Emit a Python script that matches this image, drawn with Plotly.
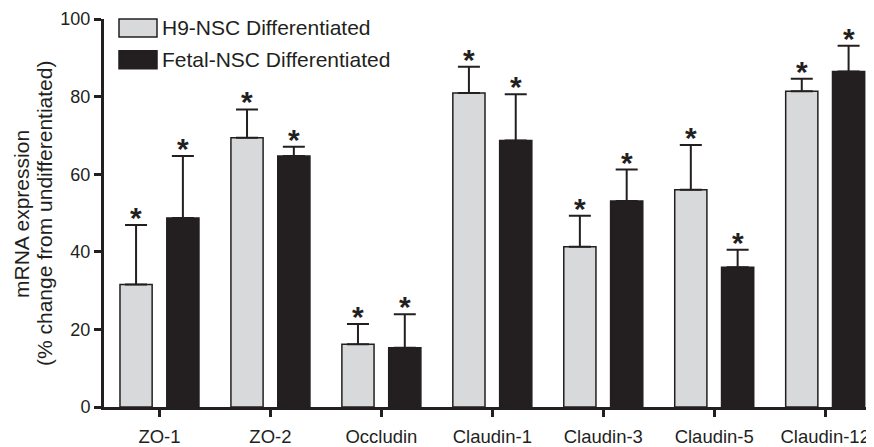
import plotly.graph_objects as go

categories = ["ZO-1", "ZO-2", "Occludin", "Claudin-1", "Claudin-3", "Claudin-5", "Claudin-12"]
h9_mean = [31.6, 69.4, 16.2, 80.9, 41.3, 56.0, 81.4]
h9_err = [15.3, 7.3, 5.2, 6.8, 8.0, 11.5, 3.2]
fetal_mean = [48.7, 64.7, 15.3, 68.7, 53.1, 36.0, 86.5]
fetal_err = [16.0, 2.4, 8.6, 11.9, 8.1, 4.5, 6.6]
series_names = ["H9-NSC Differentiated", "Fetal-NSC Differentiated"]
y_ticks = [0, 20, 40, 60, 80, 100]
y_title_lines = ["mRNA expression", "(% change from undifferentiated)"]

GRAY = "#d8d9db"
BLACK = "#231f20"
FONT = "Liberation Sans, Arial, sans-serif"
BAR_W = 0.29
OFFSETS = [-0.356, 0.066]

# page body has an 8px margin, so the figure is 8px smaller on each axis
PAGE_OFF = 8
FIG_W, FIG_H = 874 - PAGE_OFF, 447 - PAGE_OFF
L = 104  # reference pixel of y axis
T = 19   # reference pixel of y=100
B0 = 409 # reference pixel of y=0
PW = 874 - L
PH = B0 - T

xs = list(range(len(categories)))
fig = go.Figure()
specs = [(h9_mean, h9_err, GRAY), (fetal_mean, fetal_err, BLACK)]
for (mean, err, col), off, name in zip(specs, OFFSETS, series_names):
    fig.add_trace(go.Bar(
        x=xs, y=mean, name=name, width=BAR_W, offset=off,
        marker=dict(color=col, line=dict(color=BLACK, width=1.5)),
        error_y=dict(type="data", symmetric=False, array=err, arrayminus=[0] * len(err),
                     color=BLACK, thickness=2, width=11),
        showlegend=False,
    ))
    for i, (m, e) in enumerate(zip(mean, err)):
        fig.add_annotation(x=i + off + BAR_W / 2, y=m + e, xref="x", yref="y",
                           text="<b>*</b>", showarrow=False, yanchor="bottom",
                           yshift=-11, font=dict(family=FONT, size=30, color=BLACK))

def px(xp):
    return (xp - L) / PW
def py(yp):
    return (B0 - yp) / PH

# legend drawn as swatches + labels
legend_rows = [(19, 37, GRAY), (51, 69, BLACK)]
for (y0, y1, col), name in zip(legend_rows, series_names):
    fig.add_shape(type="rect", xref="paper", yref="paper",
                  x0=px(119), x1=px(157), y0=py(y1), y1=py(y0),
                  fillcolor=col, line=dict(color=BLACK, width=1.5))
    fig.add_annotation(xref="paper", yref="paper", x=px(160), y=py((y0 + y1) / 2),
                       text=name, showarrow=False, xanchor="left", yanchor="middle",
                       font=dict(family=FONT, size=21, color=BLACK))

for line, xc in zip(y_title_lines, [22, 45]):
    fig.add_annotation(xref="paper", yref="paper", x=px(xc), y=py(215),
                       text=line, textangle=-90, showarrow=False,
                       xanchor="center", yanchor="middle",
                       font=dict(family=FONT, size=21, color=BLACK))

fig.update_layout(
    width=FIG_W, height=FIG_H,
    margin=dict(l=L - PAGE_OFF, r=0, t=T - PAGE_OFF, b=FIG_H - (B0 - PAGE_OFF)),
    plot_bgcolor="white", paper_bgcolor="white",
    barmode="overlay",
    font=dict(family=FONT, size=18, color=BLACK),
)
fig.update_xaxes(range=[-0.5, 6.44], tickvals=xs, ticktext=categories,
                 showline=True, linecolor=BLACK, linewidth=3,
                 ticks="outside", ticklen=7, tickwidth=3, tickcolor=BLACK,
                 ticklabelstandoff=4,
                 showgrid=False, zeroline=False, tickfont=dict(size=18.5))
fig.update_yaxes(range=[0, 100], tickvals=y_ticks,
                 showline=True, linecolor=BLACK, linewidth=3,
                 ticks="outside", ticklen=7, tickwidth=3, tickcolor=BLACK,
                 showgrid=False, zeroline=False, tickfont=dict(size=18))

fig.write_html("out.html")
